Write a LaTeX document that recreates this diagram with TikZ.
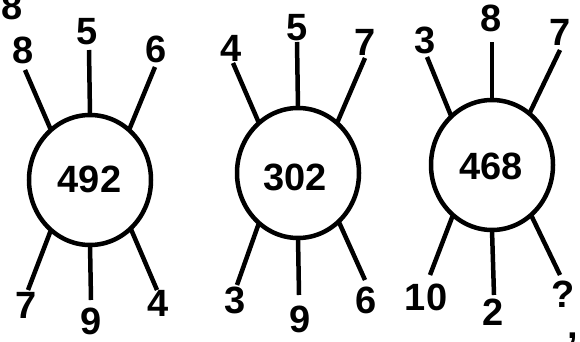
\documentclass[tikz,border=0pt]{standalone}
\usepackage{fontspec}
\setmainfont{Liberation Sans}
\usetikzlibrary{shapes.geometric}
\begin{document}
\begin{tikzpicture}[x=1pt,y=-1pt,
    ring/.style={draw,ellipse,line width=4.5pt,minimum width=122pt,minimum height=130pt,
      inner sep=0pt,outer sep=0pt},
    num/.style={inner sep=0pt,font=\fontsize{38}{38}\selectfont\bfseries},
    spoke/.style={line width=4.5pt}]
  \useasboundingbox (0,0) rectangle (580,342);
  % first wheel
  \node[ring] (c1) at (90,180) {};
  \node[num] (m1) at (89.5,179) {492};
  \coordinate (c1tl) at (25,70);
  \coordinate (c1t) at (89,50);
  \coordinate (c1tr) at (155,67);
  \coordinate (c1bl) at (28,290);
  \coordinate (c1b) at (91,300);
  \coordinate (c1br) at (157,290);
  \draw[spoke] (c1.128) -- (c1tl);
  \draw[spoke] (c1.north) -- (c1t);
  \draw[spoke] (c1.52) -- (c1tr);
  \draw[spoke] (c1.-128) -- (c1bl);
  \draw[spoke] (c1.south) -- (c1b);
  \draw[spoke] (c1.-50) -- (c1br);
  \node[num] (n1tl) at (23,50) {8};
  \node[num] (n1t) at (87,32) {5};
  \node[num] (n1tr) at (156,49) {6};
  \node[num] (n1bl) at (26,305) {7};
  \node[num] (n1b) at (91,321) {9};
  \node[num] (n1br) at (158,303) {4};
  % second wheel
  \node[ring] (c2) at (298,173) {};
  \node[num] (m2) at (295,177) {302};
  \coordinate (c2tl) at (233,63);
  \coordinate (c2t) at (297,42);
  \coordinate (c2tr) at (365,58);
  \coordinate (c2bl) at (237,285);
  \coordinate (c2b) at (299,295);
  \coordinate (c2br) at (365,280);
  \draw[spoke] (c2.128) -- (c2tl);
  \draw[spoke] (c2.north) -- (c2t);
  \draw[spoke] (c2.52) -- (c2tr);
  \draw[spoke] (c2.-128) -- (c2bl);
  \draw[spoke] (c2.south) -- (c2b);
  \draw[spoke] (c2.-50) -- (c2br);
  \node[num] (n2tl) at (231,48) {4};
  \node[num] (n2t) at (297,28) {5};
  \node[num] (n2tr) at (365,42) {7};
  \node[num] (n2bl) at (235,300) {3};
  \node[num] (n2b) at (300,319) {9};
  \node[num] (n2br) at (366,300) {6};
  % third wheel
  \node[ring] (c3) at (492,165) {};
  \node[num] (m3) at (491,166.5) {468};
  \coordinate (c3tl) at (427,57);
  \coordinate (c3t) at (492,42);
  \coordinate (c3tr) at (560,50);
  \coordinate (c3bl) at (430,275);
  \coordinate (c3b) at (494,295);
  \coordinate (c3br) at (560,275);
  \draw[spoke] (c3.130) -- (c3tl);
  \draw[spoke] (c3.north) -- (c3t);
  \draw[spoke] (c3.54) -- (c3tr);
  \draw[spoke] (c3.-128) -- (c3bl);
  \draw[spoke] (c3.south) -- (c3b);
  \draw[spoke] (c3.-52) -- (c3br);
  \node[num] (n3tl) at (425,40) {3};
  \node[num] (n3t) at (491,18) {8};
  \node[num] (n3tr) at (560,32) {7};
  \node[num] (n3bl) at (426,297) {10};
  \node[num] (n3b) at (493,312) {2};
  \node[num] (n3br) at (563,294) {?};
  \node[num] (comma) at (573,339) {,};
  % cut-off digit in the corner
  \node[num] (corner) at (12,6) {8};
\end{tikzpicture}
\end{document}
